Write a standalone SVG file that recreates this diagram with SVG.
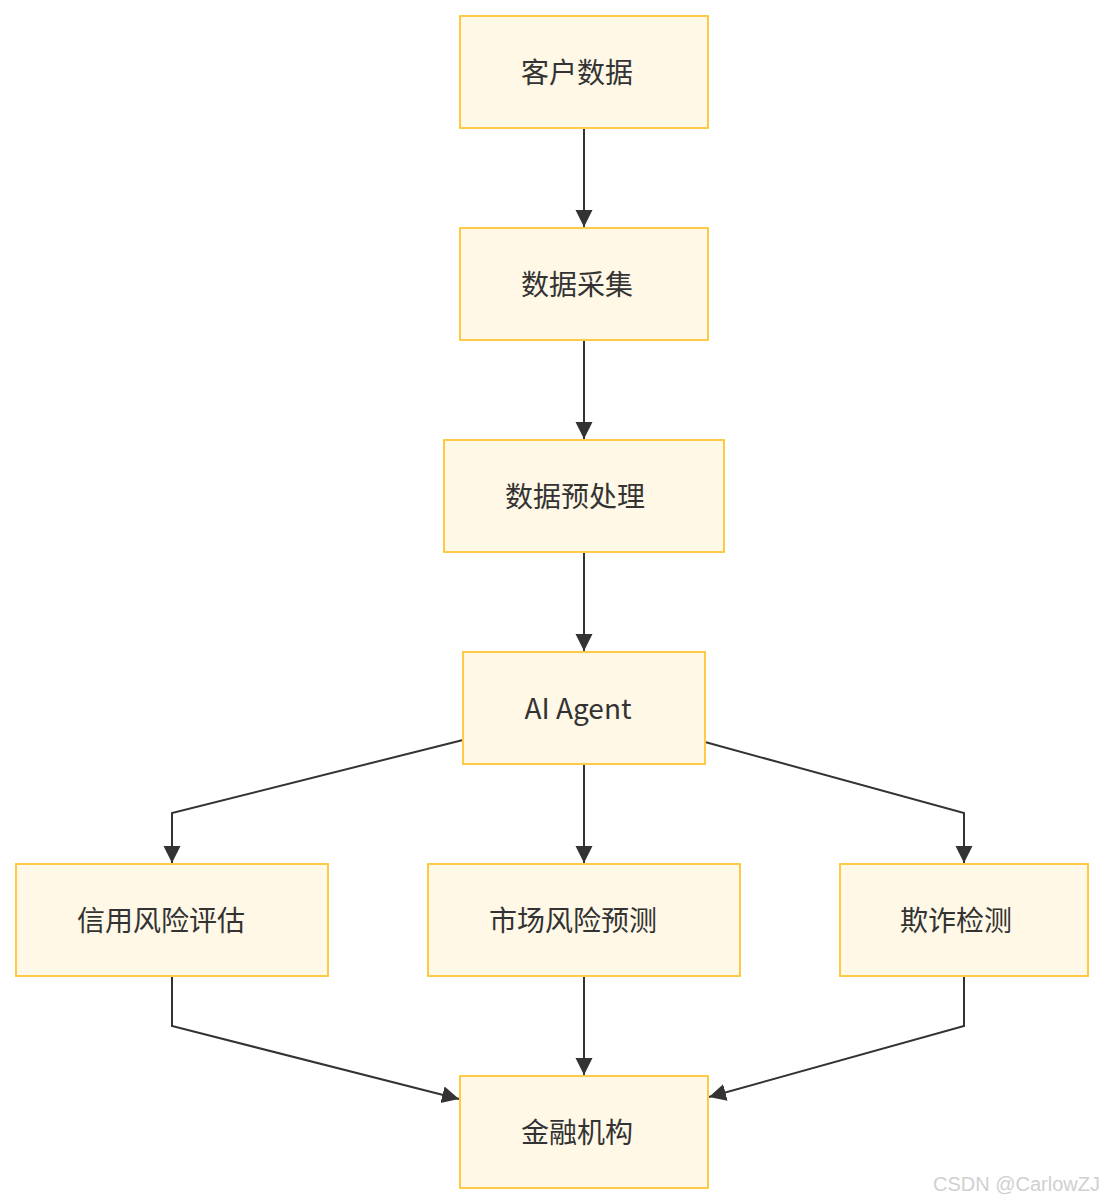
<svg xmlns="http://www.w3.org/2000/svg" width="1104" height="1204" viewBox="0 0 1104 1204">
<style>
.node rect{fill:#fff8e6;stroke:#ffcb47;stroke-width:2}
.node text{font-family:"Noto Sans CJK SC","Noto Sans",sans-serif;font-size:28px;fill:#333;text-anchor:middle;dominant-baseline:central}
.edge{fill:none;stroke:#333;stroke-width:2}
.wm{font-family:"Liberation Sans",Arial,sans-serif;font-size:20px;fill:#d0d0d0}
</style>
<defs>
<marker id="arr" markerUnits="userSpaceOnUse" markerWidth="20" markerHeight="20" viewBox="0 0 20 20" refX="17" refY="10" orient="auto">
<path d="M0,1.5 L17,10 L0,18.5 Z" fill="#333"/>
</marker>
</defs>
<rect width="1104" height="1204" fill="#fff"/>
<g id="connectors">
<path class="edge" d="M584,128 V227" marker-end="url(#arr)"/>
<path class="edge" d="M584,340 V439" marker-end="url(#arr)"/>
<path class="edge" d="M584,552 V651" marker-end="url(#arr)"/>
<path class="edge" d="M463,740 L172,813 V863" marker-end="url(#arr)"/>
<path class="edge" d="M584,764 V863" marker-end="url(#arr)"/>
<path class="edge" d="M705,742 L964,813 V863" marker-end="url(#arr)"/>
<path class="edge" d="M172,976 V1026 L459,1099" marker-end="url(#arr)"/>
<path class="edge" d="M584,976 V1075" marker-end="url(#arr)"/>
<path class="edge" d="M964,976 V1026 L709,1097" marker-end="url(#arr)"/>
</g>
<g id="n1" class="node"><rect x="460" y="16" width="248" height="112"/><text x="577" y="71">客户数据</text></g>
<g id="n2" class="node"><rect x="460" y="228" width="248" height="112"/><text x="577" y="283">数据采集</text></g>
<g id="n3" class="node"><rect x="444" y="440" width="280" height="112"/><text x="575" y="495">数据预处理</text></g>
<g id="n4" class="node"><rect x="463" y="652" width="242" height="112"/><text x="578" y="707">AI Agent</text></g>
<g id="n5" class="node"><rect x="16" y="864" width="312" height="112"/><text x="161" y="919">信用风险评估</text></g>
<g id="n6" class="node"><rect x="428" y="864" width="312" height="112"/><text x="573" y="919">市场风险预测</text></g>
<g id="n7" class="node"><rect x="840" y="864" width="248" height="112"/><text x="956" y="919">欺诈检测</text></g>
<g id="n8" class="node"><rect x="460" y="1076" width="248" height="112"/><text x="577" y="1131">金融机构</text></g>
<text class="wm" x="1100" y="1191" text-anchor="end">CSDN @CarlowZJ</text>
</svg>
